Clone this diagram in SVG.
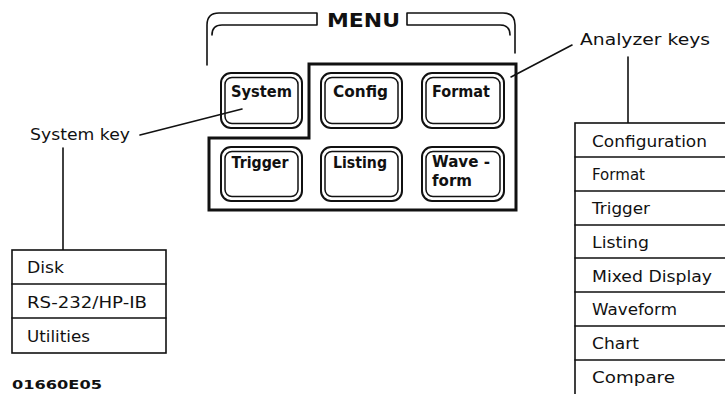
<svg xmlns="http://www.w3.org/2000/svg" width="725" height="394" viewBox="0 0 725 394">
<style>
.ln{fill:none;stroke:#111;stroke-width:1.6;stroke-linecap:round;stroke-linejoin:round}
.box{fill:none;stroke:#111;stroke-width:3;stroke-linejoin:miter}
.ko{fill:#fff;stroke:#111;stroke-width:2}
.ki{fill:none;stroke:#111;stroke-width:1.5}
.kt{font-family:"DejaVu Sans","Liberation Sans",sans-serif;font-weight:bold;font-size:16px;fill:#111;text-anchor:middle}
.lb{font-family:"DejaVu Sans","Liberation Sans",sans-serif;font-size:16.5px;fill:#111}
.tb{fill:#fff;stroke:#111;stroke-width:1.6}
</style>
<rect width="725" height="394" fill="#fff"/>
<g id="menu-bracket">
<path class="ln" d="M207,65 V25 Q207,13 219,13 H317 V25 H222 Q212,25 212,35"/>
<path class="ln" d="M515,53 V25 Q515,13 503,13 H407 V25 H500 Q510,25 510,35"/>
<text x="327" y="27" font-family="DejaVu Sans,Liberation Sans,sans-serif" font-weight="bold" font-size="19" textLength="73" lengthAdjust="spacingAndGlyphs" fill="#111">MENU</text>
</g>
<g id="analyzer-group">
<path class="box" d="M309,64 H516 V210 H209 V138 H309 Z"/>
</g>
<g id="key-system">
<rect class="ko" x="221" y="73" width="81" height="55" rx="10"/>
<rect class="ki" x="225" y="77.5" width="73" height="46" rx="7"/>
<text class="kt" x="261.5" y="97" textLength="61" lengthAdjust="spacingAndGlyphs">System</text>
</g>
<g id="key-config">
<rect class="ko" x="321" y="73" width="81" height="55" rx="10"/>
<rect class="ki" x="325" y="77.5" width="73" height="46" rx="7"/>
<text class="kt" x="360.5" y="97" textLength="55" lengthAdjust="spacingAndGlyphs">Config</text>
</g>
<g id="key-format">
<rect class="ko" x="422" y="73" width="82" height="55" rx="10"/>
<rect class="ki" x="426" y="77.5" width="74" height="46" rx="7"/>
<text class="kt" x="461" y="97" textLength="58" lengthAdjust="spacingAndGlyphs">Format</text>
</g>
<g id="key-trigger">
<rect class="ko" x="221" y="147" width="81" height="54" rx="10"/>
<rect class="ki" x="225" y="151.5" width="73" height="45" rx="7"/>
<text class="kt" x="260" y="168" textLength="57" lengthAdjust="spacingAndGlyphs">Trigger</text>
</g>
<g id="key-listing">
<rect class="ko" x="321" y="147" width="81" height="54" rx="10"/>
<rect class="ki" x="325" y="151.5" width="73" height="45" rx="7"/>
<text class="kt" x="360" y="168" textLength="54" lengthAdjust="spacingAndGlyphs">Listing</text>
</g>
<g id="key-waveform">
<rect class="ko" x="422" y="147" width="82" height="54" rx="10"/>
<rect class="ki" x="426" y="151.5" width="74" height="45" rx="7"/>
<text class="kt" x="432" y="167" style="text-anchor:start" textLength="58" lengthAdjust="spacingAndGlyphs">Wave -</text>
<text class="kt" x="432" y="186" style="text-anchor:start" textLength="40" lengthAdjust="spacingAndGlyphs">form</text>
</g>
<g id="connectors">
<path class="ln" d="M140,135 L242,109"/>
<path class="ln" d="M63,148 V250"/>
<path class="ln" d="M572,45 L511,77"/>
<path class="ln" d="M628,57 V123"/>
</g>
<g id="label-system-key">
<text class="lb" x="30" y="140" textLength="100" lengthAdjust="spacingAndGlyphs">System key</text>
</g>
<g id="label-analyzer-keys">
<text class="lb" x="580" y="45" textLength="130" lengthAdjust="spacingAndGlyphs">Analyzer keys</text>
</g>
<g id="system-menu">
<rect class="tb" x="12" y="250" width="154" height="103"/>
<path class="ln" d="M12,284 H166 M12,318 H166"/>
<text class="lb" x="27" y="273" textLength="37" lengthAdjust="spacingAndGlyphs">Disk</text>
<text class="lb" x="27" y="308" textLength="120" lengthAdjust="spacingAndGlyphs">RS-232/HP-IB</text>
<text class="lb" x="27" y="342" textLength="63" lengthAdjust="spacingAndGlyphs">Utilities</text>
</g>
<g id="analyzer-menu">
<rect class="tb" x="575" y="123" width="160" height="280"/>
<path class="ln" d="M575,157 H725 M575,191 H725 M575,225 H725 M575,258 H725 M575,292 H725 M575,326 H725 M575,360 H725"/>
<text class="lb" x="592" y="147" textLength="115" lengthAdjust="spacingAndGlyphs">Configuration</text>
<text class="lb" x="592" y="180" textLength="53" lengthAdjust="spacingAndGlyphs">Format</text>
<text class="lb" x="592" y="214" textLength="58" lengthAdjust="spacingAndGlyphs">Trigger</text>
<text class="lb" x="592" y="248" textLength="57" lengthAdjust="spacingAndGlyphs">Listing</text>
<text class="lb" x="592" y="282" textLength="120" lengthAdjust="spacingAndGlyphs">Mixed Display</text>
<text class="lb" x="592" y="315" textLength="85" lengthAdjust="spacingAndGlyphs">Waveform</text>
<text class="lb" x="592" y="349" textLength="47" lengthAdjust="spacingAndGlyphs">Chart</text>
<text class="lb" x="592" y="383" textLength="83" lengthAdjust="spacingAndGlyphs">Compare</text>
</g>
<text x="12" y="389" font-family="DejaVu Sans,Liberation Sans,sans-serif" font-weight="bold" font-size="13" textLength="90" lengthAdjust="spacingAndGlyphs" fill="#111">01660E05</text>
</svg>
